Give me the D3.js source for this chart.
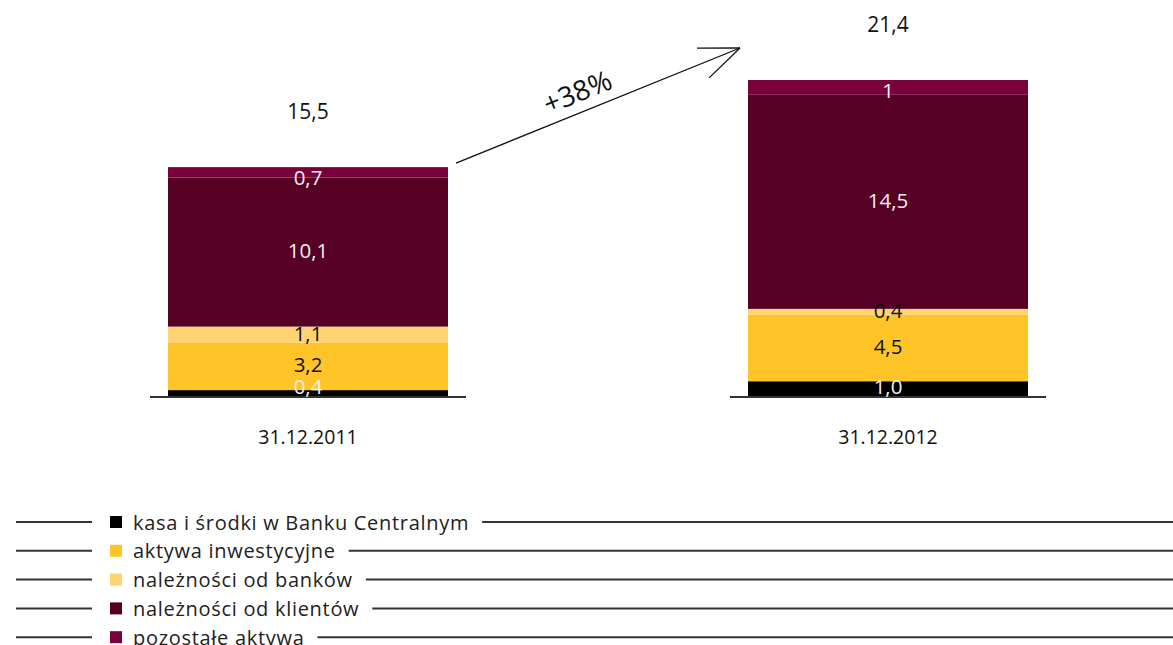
<!DOCTYPE html>
<html>
<head>
<meta charset="utf-8">
<script src="https://cdn.jsdelivr.net/npm/d3@7"></script>
<style>
  body { margin: 0; background: #fff; }
  svg { display: block; }
</style>
</head>
<body>
<svg id="chart" width="1173" height="645"></svg>
<script>
// Struktura aktywów (mld zł)
const dates = ["31.12.2011", "31.12.2012"];
const seriesKeys = ["kasa", "inwest", "banki", "klienci", "pozostale"];
const seriesNames = [
  "kasa i środki w Banku Centralnym",
  "aktywa inwestycyjne",
  "należności od banków",
  "należności od klientów",
  "pozostałe aktywa"
];
const kasa = [0.4, 1.0];
const aktywaInwestycyjne = [3.2, 4.5];
const naleznosciOdBankow = [1.1, 0.4];
const naleznosciOdKlientow = [10.1, 14.5];
const pozostaleAktywa = [0.7, 1.0];
const segmentLabels = [
  ["0,4", "1,0"],
  ["3,2", "4,5"],
  ["1,1", "0,4"],
  ["10,1", "14,5"],
  ["0,7", "1"]
];
const totals = [15.5, 21.4];
const totalLabels = ["15,5", "21,4"];
const seriesColors = ["#000000", "#FFC428", "#FFD470", "#560023", "#78003B"];
const labelColors = ["#f3eef2", "#111111", "#111111", "#f3eef2", "#f3eef2"];

const rows = dates.map((d, i) => ({
  date: d,
  kasa: kasa[i],
  inwest: aktywaInwestycyjne[i],
  banki: naleznosciOdBankow[i],
  klienci: naleznosciOdKlientow[i],
  pozostale: pozostaleAktywa[i]
}));

const svg = d3.select("#chart");
const labelFont = "'Open Sans', 'Noto Sans', sans-serif";

const x = d3.scaleBand()
  .domain(dates)
  .range([18, 1178])
  .paddingInner(300 / 580)
  .paddingOuter(150 / 580);

const baseY = 396;
const y = d3.scaleLinear().domain([0, 21.4]).range([baseY, 80]);

const stacked = d3.stack().keys(seriesKeys)(rows);

// Bars
const layers = svg.append("g").selectAll("g")
  .data(stacked)
  .join("g")
  .attr("fill", (d, i) => seriesColors[i]);

layers.selectAll("rect")
  .data(d => d)
  .join("rect")
  .attr("x", d => x(d.data.date))
  .attr("width", x.bandwidth())
  .attr("y", d => y(d[1]))
  .attr("height", d => y(d[0]) - y(d[1]));

// Baselines under each bar
svg.append("g").selectAll("line")
  .data(dates)
  .join("line")
  .attr("x1", d => x(d) - 18)
  .attr("x2", d => x(d) + x.bandwidth() + 18)
  .attr("y1", baseY + 1)
  .attr("y2", baseY + 1)
  .attr("stroke", "#333")
  .attr("stroke-width", 2);

// Segment value labels
stacked.forEach((layer, si) => {
  svg.append("g").selectAll("text")
    .data(layer)
    .join("text")
    .attr("x", d => x(d.data.date) + x.bandwidth() / 2)
    .attr("y", (d, i) => {
      const mid = (y(d[0]) + y(d[1])) / 2;
      const top = y(totals[i]);
      return Math.max(top + 10, Math.min(baseY - 10, mid - 2));
    })
    .attr("text-anchor", "middle")
    .attr("dominant-baseline", "central")
    .attr("font-family", labelFont)
    .attr("font-size", 20.5)
    .attr("fill", labelColors[si])
    .text((d, i) => segmentLabels[si][i]);
});

// Totals above bars
svg.append("g").selectAll("text")
  .data(dates)
  .join("text")
  .attr("x", d => x(d) + x.bandwidth() / 2)
  .attr("y", (d, i) => y(totals[i]) - 56)
  .attr("text-anchor", "middle")
  .attr("dominant-baseline", "central")
  .attr("font-family", labelFont)
  .attr("font-size", 21)
  .attr("fill", "#111")
  .text((d, i) => totalLabels[i]);

// Category labels
svg.append("g").selectAll("text")
  .data(dates)
  .join("text")
  .attr("x", d => x(d) + x.bandwidth() / 2)
  .attr("y", 436)
  .attr("text-anchor", "middle")
  .attr("dominant-baseline", "central")
  .attr("font-family", labelFont)
  .attr("font-size", 19.5)
  .attr("fill", "#111")
  .text(d => d);

// Growth arrow
const x0 = x(dates[0]) + x.bandwidth() + 8, y0 = y(totals[0]) - 4;
const x1 = x(dates[1]) - 8, y1 = y(totals[1]) - 32;
const ang = Math.atan2(y1 - y0, x1 - x0);
const arrow = svg.append("g").attr("stroke", "#111").attr("stroke-width", 1.3).attr("fill", "none");
arrow.append("line").attr("x1", x0).attr("y1", y0).attr("x2", x1).attr("y2", y1);
const headLen = 43, headAng = 22 * Math.PI / 180;
[-1, 1].forEach(s => {
  const a = ang + Math.PI + s * headAng;
  arrow.append("line")
    .attr("x1", x1).attr("y1", y1)
    .attr("x2", x1 + headLen * Math.cos(a))
    .attr("y2", y1 + headLen * Math.sin(a));
});
const growth = Math.round((totals[1] / totals[0] - 1) * 100);
const gx = 577, gy = 91;
svg.append("text")
  .attr("transform", `translate(${gx},${gy}) rotate(${ang * 180 / Math.PI})`)
  .attr("text-anchor", "middle")
  .attr("dominant-baseline", "central")
  .attr("font-family", labelFont)
  .attr("font-size", 28)
  .attr("fill", "#111")
  .text("+" + growth + "%");

// Legend
const legendFont = "'Open Sans', 'Noto Sans', sans-serif";
const legend = svg.append("g");
seriesNames.forEach((name, i) => {
  const ly = 522 + i * 28.8;
  const g = legend.append("g");
  g.append("line").attr("x1", 16).attr("x2", 92).attr("y1", ly).attr("y2", ly)
    .attr("stroke", "#333").attr("stroke-width", 2);
  g.append("rect").attr("x", 110).attr("y", ly - 6).attr("width", 12).attr("height", 12)
    .attr("fill", seriesColors[i]);
  const t = g.append("text")
    .attr("x", 133).attr("y", ly)
    .attr("dominant-baseline", "central")
    .attr("font-family", legendFont)
    .attr("font-size", 20)
    .attr("letter-spacing", 0.7)
    .attr("fill", "#222")
    .text(name);
  const w = t.node().getBBox().width;
  g.append("line").attr("x1", 133 + w + 13).attr("x2", 1173).attr("y1", ly).attr("y2", ly)
    .attr("stroke", "#333").attr("stroke-width", 2);
});
</script>
</body>
</html>
